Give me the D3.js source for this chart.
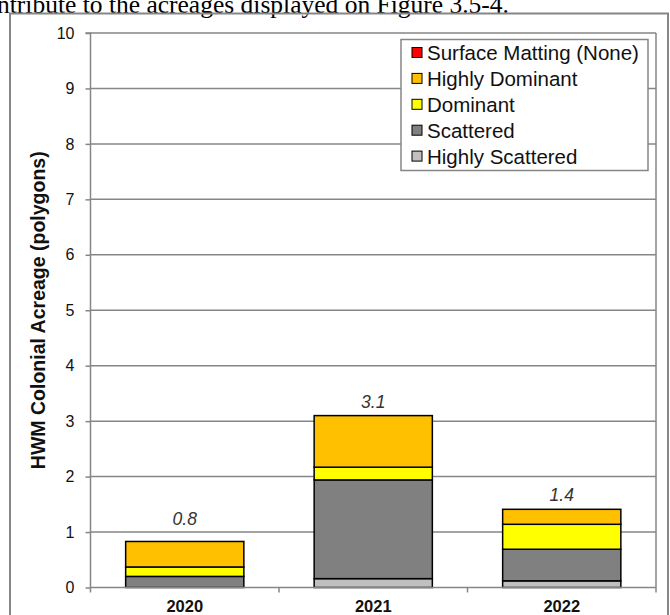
<!DOCTYPE html>
<html>
<head>
<meta charset="utf-8">
<script src="https://cdn.jsdelivr.net/npm/d3@7"></script>
<style>
  body { margin: 0; background: #fff; }
  svg { display: block; font-family: Arial, "Liberation Sans", sans-serif; }
</style>
</head>
<body>
<div id="chart"></div>
<script>
// data
const years = ["2020", "2021", "2022"];
const series = ["Surface Matting (None)", "Highly Dominant", "Dominant", "Scattered", "Highly Scattered"];
const surfaceMatting  = [0, 0, 0];
const highlyDominant  = [0.46, 0.93, 0.27];
const dominant        = [0.17, 0.23, 0.45];
const scattered       = [0.20, 1.78, 0.57];
const highlyScattered = [0.00, 0.16, 0.12];
const totalLabels = ["0.8", "3.1", "1.4"];
const yTicks = [0, 1, 2, 3, 4, 5, 6, 7, 8, 9, 10];

const colors = {
    "Surface Matting (None)": "#ff0000",
    "Highly Dominant": "#ffc000",
    "Dominant": "#ffff00",
    "Scattered": "#808080",
    "Highly Scattered": "#c0c0c0"
};

const W = 670, H = 615;
const plot = { left: 90.5, right: 656, top: 33, bottom: 587.5 };

const svg = d3.select("#chart").append("svg")
    .attr("width", W)
    .attr("height", H);

// caption line from the document, cut off at top like the source
svg.append("text")
    .attr("x", -3)
    .attr("y", 12.5)
    .style("font-family", "'Liberation Serif', 'Times New Roman', serif")
    .style("font-size", "25.5px")
    .text("ntribute to the acreages displayed on Figure 3.5-4.");

// outer chart frame
svg.append("rect")
    .attr("x", 10).attr("y", 13.5)
    .attr("width", 658).attr("height", 620)
    .attr("fill", "none")
    .attr("stroke", "#868686")
    .attr("stroke-width", 2);

// rows for the stack (bottom to top)
const rows = years.map((yr, i) => ({
    year: yr,
    "Highly Scattered": highlyScattered[i],
    "Scattered": scattered[i],
    "Dominant": dominant[i],
    "Highly Dominant": highlyDominant[i],
    "Surface Matting (None)": surfaceMatting[i],
    label: totalLabels[i]
}));
const stackOrder = ["Highly Scattered", "Scattered", "Dominant", "Highly Dominant", "Surface Matting (None)"];
const stacked = d3.stack().keys(stackOrder)(rows);

const x = d3.scaleBand()
    .domain(years)
    .range([plot.left, plot.right])
    .padding(0);

const y = d3.scaleLinear()
    .domain([0, 10])
    .range([plot.bottom, plot.top]);

const barW = x.bandwidth() * 0.627;

// gridlines
svg.append("g")
    .selectAll("line")
    .data(yTicks.filter(d => d > 0))
    .join("line")
    .attr("x1", plot.left).attr("x2", plot.right)
    .attr("y1", d => y(d)).attr("y2", d => y(d))
    .attr("stroke", "#868686")
    .attr("stroke-width", 1.5);

// right edge of plot
svg.append("line")
    .attr("x1", plot.right).attr("x2", plot.right)
    .attr("y1", plot.top).attr("y2", plot.bottom + 5)
    .attr("stroke", "#868686").attr("stroke-width", 1.5);

// bars
svg.append("g")
    .selectAll("g")
    .data(stacked)
    .join("g")
    .attr("fill", d => colors[d.key])
    .selectAll("rect")
    .data(d => d.filter(p => p[1] - p[0] > 0))
    .join("rect")
    .attr("x", d => x(d.data.year) + (x.bandwidth() - barW) / 2)
    .attr("y", d => y(d[1]))
    .attr("width", barW)
    .attr("height", d => y(d[0]) - y(d[1]))
    .attr("stroke", "#000")
    .attr("stroke-width", 1.5);

// total labels, nudged above a gridline when they would sit on it
function labelY(d) {
    let b = y(d3.sum(stackOrder, k => d[k])) - 8;
    const hit = yTicks.map(y).find(g => g > b - 14 && g < b + 3);
    if (hit !== undefined) b = hit - 7;
    return b;
}
svg.append("g")
    .selectAll("text")
    .data(rows)
    .join("text")
    .attr("x", d => x(d.year) + x.bandwidth() / 2)
    .attr("y", labelY)
    .attr("text-anchor", "middle")
    .style("font-size", "17.5px")
    .style("font-style", "italic")
    .style("fill", "#333")
    .text(d => d.label);

// y axis
const yAxis = svg.append("g")
    .attr("transform", `translate(${plot.left},0)`)
    .call(d3.axisLeft(y).tickValues(yTicks).tickSize(5).tickPadding(11).tickFormat(d3.format("d")));
yAxis.select(".domain").attr("stroke", "#868686").attr("stroke-width", 1.5)
    .attr("d", `M-5,${plot.top}H0V${plot.bottom + 5}`);
yAxis.selectAll(".tick line").attr("stroke", "#868686").attr("stroke-width", 1.5);
yAxis.selectAll(".tick text")
    .style("font-size", "16px")
    .style("fill", "#111")
    .style("font-family", "Arial, 'Liberation Sans', sans-serif");

// x axis
const xAxis = svg.append("g")
    .attr("transform", `translate(0,${plot.bottom})`)
    .call(d3.axisBottom(x).tickSize(0).tickPadding(13));
xAxis.select(".domain").attr("stroke", "#868686").attr("stroke-width", 1.5)
    .attr("d", `M${plot.left},0H${plot.right}`);
xAxis.selectAll(".tick text")
    .style("font-size", "16.5px")
    .style("font-weight", "bold")
    .style("fill", "#111")
    .style("font-family", "Arial, 'Liberation Sans', sans-serif");
// category separators
xAxis.append("g")
    .selectAll("line")
    .data(years.slice(1))
    .join("line")
    .attr("x1", d => x(d)).attr("x2", d => x(d))
    .attr("y1", 0).attr("y2", 5)
    .attr("stroke", "#868686").attr("stroke-width", 1.5);

// y title
svg.append("text")
    .attr("transform", `translate(45,${(plot.top + plot.bottom) / 2}) rotate(-90)`)
    .attr("text-anchor", "middle")
    .style("font-size", "19.5px")
    .style("font-weight", "bold")
    .style("fill", "#111")
    .text("HWM Colonial Acreage (polygons)");

// legend
const legend = svg.append("g").attr("transform", "translate(401,39.5)");
legend.append("rect")
    .attr("width", 247).attr("height", 131)
    .attr("fill", "#fff")
    .attr("stroke", "#868686")
    .attr("stroke-width", 1.5);
const item = legend.selectAll(".item")
    .data(series)
    .join("g")
    .attr("class", "item")
    .attr("transform", (d, i) => `translate(11,${13 + i * 25.9})`);
item.append("rect")
    .attr("x", 0).attr("y", -5)
    .attr("width", 10).attr("height", 10)
    .attr("fill", d => colors[d])
    .attr("stroke", "#000")
    .attr("stroke-width", 1);
item.append("text")
    .attr("x", 15)
    .attr("y", 7.5)
    .style("font-size", "20.5px")
    .style("fill", "#111")
    .text(d => d);
</script>
</body>
</html>
